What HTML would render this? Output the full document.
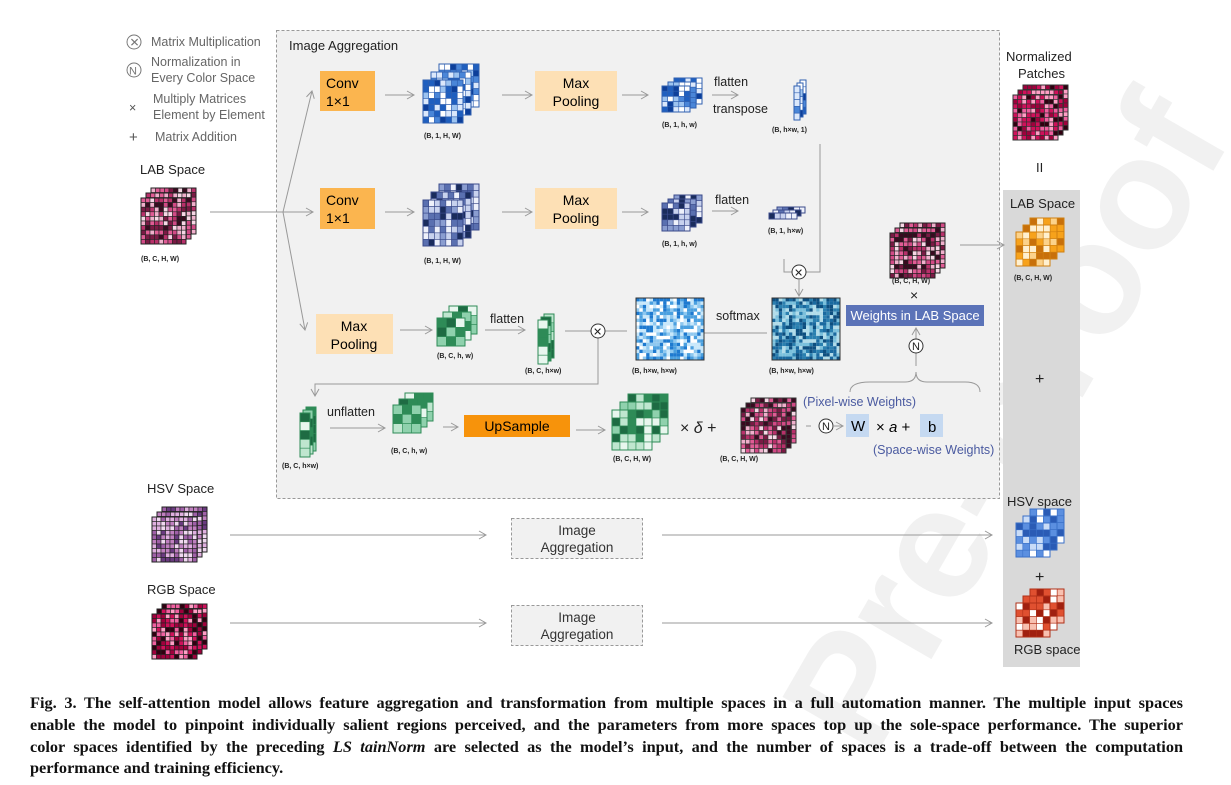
<!DOCTYPE html>
<html><head><meta charset="utf-8"><style>
body{margin:0;background:#fff;width:1231px;height:785px;overflow:hidden;position:relative;font-family:"Liberation Sans",sans-serif}
svg{position:absolute;left:0;top:0}
.cap{position:absolute;left:30px;top:692px;width:1153px;font-family:"Liberation Serif",serif;font-weight:bold;font-size:16.3px;line-height:21.8px;color:#111}
.cap div{text-align:justify;text-align-last:justify;white-space:nowrap}
.cap div.l{text-align-last:left}
</style></head><body>
<svg id="s" width="1231" height="785" font-family="Liberation Sans, sans-serif">
<defs>
<marker id="a" markerWidth="10" markerHeight="10" refX="8" refY="5" orient="auto" markerUnits="userSpaceOnUse"><path d="M1,1 L8,5 L1,9" fill="none" stroke="#999" stroke-width="1"/></marker>
</defs>
<g fill="#f1f1f1">
<text x="560" y="780" font-size="160" font-weight="bold" transform="rotate(-60 700 500)" font-family="Liberation Sans">Pre-proof</text>
</g>
<rect x="1003" y="190" width="77" height="477" fill="#d9d9d9"/>
<rect x="276.5" y="30.5" width="723" height="468" fill="#f1f1f1" stroke="#999" stroke-dasharray="3,2"/>
<g font-size="12.5" fill="#666">
<circle cx="134" cy="42" r="7" fill="none" stroke="#777"/><text x="129.5" y="46.5" font-size="12" fill="#777">✕</text>
<text x="151" y="46">Matrix Multiplication</text>
<circle cx="134" cy="70" r="7" fill="none" stroke="#777"/><text x="129" y="74.5" font-size="11" fill="#777">N</text>
<text x="151" y="66">Normalization in</text><text x="151" y="82">Every Color Space</text>
<text x="129" y="112" fill="#555">×</text>
<text x="153" y="103">Multiply Matrices</text><text x="153" y="119">Element by Element</text>
<text x="129" y="142" fill="#555" font-size="15">+</text>
<text x="155" y="141">Matrix Addition</text>
</g>
<g font-size="13" fill="#222">
<text x="289" y="50">Image Aggregation</text>
<text x="140" y="174">LAB Space</text>
<text x="147" y="493">HSV Space</text>
<text x="147" y="594">RGB Space</text>
<text x="1006" y="61">Normalized</text><text x="1018" y="78">Patches</text>
<text x="1010" y="208">LAB Space</text>
<text x="1007" y="506">HSV space</text>
<text x="1014" y="654">RGB space</text>
<text x="1036" y="172" font-size="13">II</text>
<text x="1035" y="384" font-size="16">+</text>
<text x="1035" y="582" font-size="16">+</text>
</g>
<rect x="320" y="71" width="55" height="40" fill="#fbb54f"/><text x="326" y="88" font-size="14">Conv</text><text x="326" y="106" font-size="14">1×1</text>
<rect x="320" y="188" width="55" height="41" fill="#fbb54f"/><text x="326" y="205" font-size="14">Conv</text><text x="326" y="223" font-size="14">1×1</text>
<rect x="535" y="71" width="82" height="40" fill="#fde0b5"/><text x="576" y="88" font-size="14" text-anchor="middle">Max</text><text x="576" y="106" font-size="14" text-anchor="middle">Pooling</text>
<rect x="535" y="188" width="82" height="41" fill="#fde0b5"/><text x="576" y="205" font-size="14" text-anchor="middle">Max</text><text x="576" y="223" font-size="14" text-anchor="middle">Pooling</text>
<rect x="316" y="314" width="77" height="40" fill="#fde0b5"/><text x="354" y="331" font-size="14" text-anchor="middle">Max</text><text x="354" y="349" font-size="14" text-anchor="middle">Pooling</text>
<rect x="464" y="415" width="106" height="22" fill="#f7930b"/><text x="517" y="431" font-size="14" text-anchor="middle">UpSample</text>
<rect x="846" y="305" width="138" height="21" fill="#5b73b8"/><text x="915" y="320" font-size="13" fill="#fff" text-anchor="middle">Weights in LAB Space</text>
<rect x="511.5" y="518.5" width="131" height="40" fill="#f1f1f1" stroke="#999" stroke-dasharray="3,2"/><text x="577" y="535" font-size="13.5" text-anchor="middle" fill="#333">Image</text><text x="577" y="552" font-size="13.5" text-anchor="middle" fill="#333">Aggregation</text>
<rect x="511.5" y="605.5" width="131" height="40" fill="#f1f1f1" stroke="#999" stroke-dasharray="3,2"/><text x="577" y="622" font-size="13.5" text-anchor="middle" fill="#333">Image</text><text x="577" y="639" font-size="13.5" text-anchor="middle" fill="#333">Aggregation</text>
<g stroke="#999" stroke-width="1" fill="none" marker-end="url(#a)">
<line x1="210" y1="212" x2="313" y2="212"/>
<path d="M283,212 L312,91"/><path d="M283,212 L305,330"/>
<line x1="385" y1="95" x2="414" y2="95"/><line x1="502" y1="95" x2="532" y2="95"/><line x1="622" y1="95" x2="648" y2="95"/><line x1="712" y1="95" x2="738" y2="95"/>
<line x1="385" y1="212" x2="414" y2="212"/><line x1="502" y1="212" x2="532" y2="212"/><line x1="622" y1="212" x2="648" y2="212"/><line x1="712" y1="211" x2="738" y2="211"/>
<line x1="400" y1="330" x2="432" y2="330"/><line x1="485" y1="330" x2="525" y2="330"/>
<line x1="767" y1="333" x2="697" y2="333"/>
<line x1="799" y1="280" x2="799" y2="296"/>
<path d="M598,338 L598,384 L315,384 L315,396"/>
<line x1="330" y1="428" x2="385" y2="428"/><line x1="443" y1="427" x2="458" y2="427"/><line x1="576" y1="430" x2="605" y2="430"/>
<line x1="960" y1="245" x2="1004" y2="245"/>
<line x1="916" y1="366" x2="916" y2="328"/>
<line x1="834" y1="426" x2="843" y2="426"/>
<line x1="230" y1="535" x2="486" y2="535"/><line x1="662" y1="535" x2="992" y2="535"/>
<line x1="230" y1="623" x2="486" y2="623"/><line x1="662" y1="623" x2="992" y2="623"/>
</g>
<g stroke="#999" fill="none">
<path d="M784,259 L784,272 L792,272"/><path d="M806,272 L820,272 L820,144"/>
<line x1="565" y1="331" x2="591" y2="331"/><line x1="605" y1="331" x2="627" y2="331"/>
<line x1="806" y1="426" x2="811" y2="426"/>
<line x1="916" y1="354" x2="916" y2="366"/>
<path d="M850,392 Q850,382 870,382 L905,382 Q916,382 916,372 Q916,382 927,382 L965,382 Q980,382 980,392"/>
</g>
<g fill="#fff" stroke="#333">
<circle cx="799" cy="272" r="7"/><circle cx="598" cy="331" r="7"/><circle cx="916" cy="346" r="7"/><circle cx="826" cy="426" r="7"/>
</g>
<g font-size="11" fill="#222"><text x="794" y="276.5">✕</text><text x="593" y="335.5">✕</text><text x="912" y="350">N</text><text x="822" y="430">N</text></g>
<g font-size="12.5" fill="#222">
<text x="714" y="86">flatten</text><text x="713" y="113">transpose</text><text x="715" y="204">flatten</text>
<text x="490" y="323">flatten</text><text x="716" y="320">softmax</text><text x="327" y="416">unflatten</text>
<text x="910" y="300" font-size="14">×</text>
<text x="680" y="433" font-size="16">× <tspan font-style="italic">δ</tspan>  +</text>
<text x="803" y="406" fill="#4a5aa0">(Pixel-wise Weights)</text>
<text x="873" y="454" fill="#4a5aa0">(Space-wise Weights)</text>
</g>
<rect x="846" y="414" width="23" height="23" fill="#c5d9f1"/><text x="851" y="431" font-size="15">W</text>
<text x="876" y="432" font-size="15">× <tspan font-style="italic">a</tspan> +</text>
<rect x="920" y="414" width="23" height="23" fill="#c5d9f1"/><text x="928" y="432" font-size="15">b</text>
<g font-size="7" font-weight="bold" fill="#222">
<text x="141" y="261">(B, C, H, W)</text><text x="424" y="138">(B, 1, H, W)</text><text x="424" y="263">(B, 1, H, W)</text>
<text x="662" y="127">(B, 1, h, w)</text><text x="662" y="246">(B, 1, h, w)</text><text x="772" y="132">(B, h×w, 1)</text><text x="768" y="233">(B, 1, h×w)</text>
<text x="437" y="358">(B, C, h, w)</text><text x="525" y="373">(B, C, h×w)</text><text x="632" y="373">(B, h×w, h×w)</text><text x="769" y="373">(B, h×w, h×w)</text>
<text x="282" y="468">(B, C, h×w)</text><text x="391" y="453">(B, C, h, w)</text><text x="613" y="461">(B, C, H, W)</text><text x="720" y="461">(B, C, H, W)</text>
<text x="892" y="283">(B, C, H, W)</text><text x="1014" y="280">(B, C, H, W)</text>
</g>
<g id="g"></g>
</svg>
<div class="cap">
<div>Fig. 3. The self-attention model allows feature aggregation and transformation from multiple spaces in a full automation manner. The multiple input spaces</div>
<div>enable the model to pinpoint individually salient regions perceived, and the parameters from more spaces top up the sole-space performance. The superior</div>
<div>color spaces identified by the preceding <i>LS tainNorm</i> are selected as the model’s input, and the number of spaces is a trade-off between the computation</div>
<div class="l">performance and training efficiency.</div>
</div>
<script>
var g=document.getElementById('g'),h='';
var seed=7;function r(){seed=(seed*9301+49297)%233280;return seed/233280;}
function grid(x,y,w,hh,nx,ny,pal,stroke){var cw=w/nx,ch=hh/ny;for(var i=0;i<nx;i++)for(var j=0;j<ny;j++){h+='<rect x="'+(x+i*cw)+'" y="'+(y+j*ch)+'" width="'+cw+'" height="'+ch+'" fill="'+pal[Math.floor(r()*pal.length)]+'"'+(stroke?' stroke="'+stroke+'" stroke-width="0.6"':'')+'/>';}
h+='<rect x="'+x+'" y="'+y+'" width="'+w+'" height="'+hh+'" fill="none" stroke="'+(stroke||'#333')+'" stroke-width="1"/>';}
function stack(x,y,w,hh,nx,ny,pal,stroke,dx,dy){for(var k=2;k>=0;k--)grid(x+k*dx,y-k*dy,w,hh,nx,ny,pal,stroke);}
var blue=['#1f5fbf','#0d3f9a','#9cc3f0','#dbe8fb','#4a86d8','#ffffff'],dblue=['#1a2c5c','#5a70b0','#c8d2ee','#eef1fb','#8a9dd0'];
var grn=['#2e8b57','#1e6b43','#bfe6cf','#8fd1ad','#e8f6ee'],pink=['#b8306a','#e05c95','#7a1a44','#f0b0cc','#d24a86','#3a0a20','#f7d7e5'];
var hsv=['#c080c0','#e0b0e0','#6a3a80','#f0d8f0','#a060a8'],rgb=['#d0105a','#f060a0','#300010','#ff9fc5','#a0003c'];
var org=['#f7a21b','#fcd28a','#c8700a','#fff0d0'],hb=['#5b8fe0','#c9dcf7','#2a5bb5','#ffffff'],rd=['#e05030','#f8c0b0','#a02010','#ffffff'];
stack(141,198,45,46,10,10,pink,'#222',5,5);
stack(152,517,45,45,10,10,hsv,'#222',5,5);
stack(152,614,45,45,10,10,rgb,'#222',5,5);
stack(1013,95,45,45,10,10,rgb,'#333',5,5);
stack(890,233,45,45,10,10,pink,'#222',5,5);
stack(741,408,45,45,10,10,pink,'#333',5,5);
stack(423,80,40,43,7,7,blue,'#3060b0',8,8);
stack(423,200,40,46,7,7,dblue,'#3a4a8a',8,8);
stack(662,86,28,26,5,5,blue,'#3060b0',6,4);
stack(662,203,28,28,5,5,dblue,'#3a4a8a',6,4);
stack(794,86,6,34,1,5,blue,'#3060b0',3,3);
stack(769,213,28,6,5,1,dblue,'#3a4a8a',4,3);
grid(636,298,68,62,20,18,['#1e7ad0','#8ec8f0','#ffffff','#4aa0e0','#c8e8fb'],null);
grid(772,298,68,62,20,18,['#0d4f80','#2a80b0','#7ac0dc','#1a6aa0','#b0dcea'],null);
stack(437,318,28,28,3,3,grn,'#2e8b57',6,6);
stack(538,320,10,44,1,5,grn,'#2e8b57',3,3);
stack(300,413,10,44,1,5,grn,'#2e8b57',3,3);
stack(393,405,28,28,3,3,grn,'#2e8b57',6,6);
stack(612,410,40,40,5,5,grn,'#2e8b57',8,8);
stack(1016,232,34,34,5,5,org,'#d08010',7,7);
stack(1016,523,34,34,5,5,hb,'#3a70c8',7,7);
stack(1016,603,34,34,5,5,rd,'#b03018',7,7);
g.innerHTML=h;
</script>
</body></html>
